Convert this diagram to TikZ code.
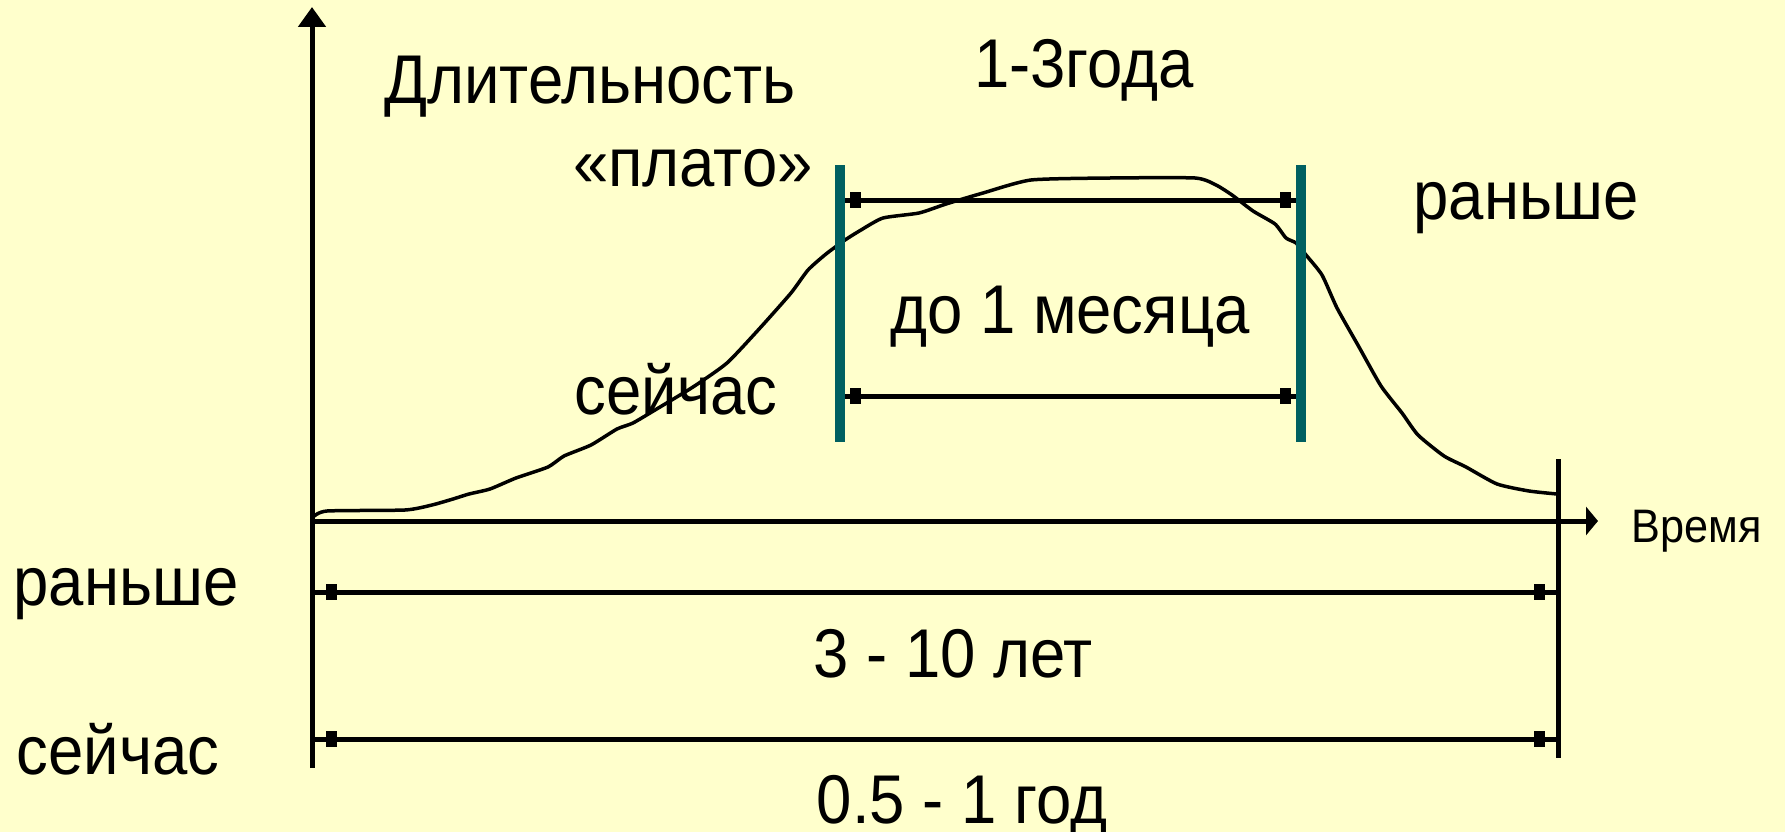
\documentclass[tikz,border=0pt]{standalone}
\usepackage{fontspec}
\setmainfont{Liberation Sans}
\newfontfamily\lblfont[FakeStretch=0.92]{Liberation Sans}
\usetikzlibrary{arrows.meta}
\definecolor{bgyel}{HTML}{FFFFCC}
\definecolor{tealbar}{HTML}{006060}
\tikzset{
  lbl/.style={inner sep=0pt, anchor=base, font=\lblfont\fontsize{69}{80}\selectfont},
  smalllbl/.style={inner sep=0pt, anchor=base, font=\lblfont\fontsize{47}{52}\selectfont},
  axisline/.style={line width=5pt, draw=black},
  tealline/.style={line width=10pt, draw=tealbar},
  dimline/.style={line width=5pt, draw=black},
  tickbox/.style={rectangle, fill=black, draw=none, minimum width=11pt, minimum height=16pt, inner sep=0pt},
  curveline/.style={line width=3.5pt, line join=round, line cap=round}
}
\begin{document}
\begin{tikzpicture}[x=1pt,y=-1pt]
\useasboundingbox (0,0) rectangle (1785,832);
\fill[bgyel] (0,0) rectangle (1785,832);

% axes
\coordinate (yb) at (312,768);
\coordinate (yt) at (312,7);
\coordinate (xo) at (312,521);
\coordinate (xe) at (1598,521);
\coordinate (rvt) at (1558,459);
\coordinate (rvb) at (1558,758);

% curve
\draw[curveline] plot[smooth, tension=0.35] coordinates {
 (313,517) (327,511) (405,510) (432,505) (453,499) (469,494) (490,489)
 (516,478) (548,467) (564,456) (591,445) (617,429) (633,423) (660,407)
 (693,387) (727,363) (760,328) (791,293) (808,270) (826,254) (845,240)
 (861,230) (883,218) (919,213) (946,204) (983,193) (1031,180) (1110,178)
 (1195,178) (1216,185) (1232,195) (1253,211) (1275,224) (1286,238)
 (1296,243) (1306,255) (1322,275) (1337,308) (1359,347) (1381,386)
 (1402,413) (1418,435) (1444,456) (1466,467) (1497,484) (1529,491) (1557,494)};

\draw[axisline, -{Triangle[length=20pt,width=27pt]}] (yb) -- (yt);
\draw[axisline, -{Triangle[length=12pt,width=28pt]}] (xo) -- (xe);
\draw[axisline] (rvt) -- (rvb);

% teal bars
\coordinate (tlt) at (840,165);
\coordinate (tlb) at (840,442);
\coordinate (trt) at (1301,165);
\coordinate (trb) at (1301,442);

% inner dimension lines
\coordinate (iaL) at (840,200);
\coordinate (iaR) at (1301,200);
\coordinate (ibL) at (840,396);
\coordinate (ibR) at (1301,396);
\draw[dimline] (iaL) -- (iaR);
\draw[dimline] (ibL) -- (ibR);
\node[tickbox] (ta1) at (855,200) {};
\node[tickbox] (ta2) at (1285,200) {};
\node[tickbox] (tb1) at (855,396) {};
\node[tickbox] (tb2) at (1285,396) {};
\draw[tealline] (tlt) -- (tlb);
\draw[tealline] (trt) -- (trb);

% lower dimension lines
\coordinate (raL) at (312,592);
\coordinate (raR) at (1558,592);
\coordinate (seL) at (312,739);
\coordinate (seR) at (1558,739);
\draw[dimline] (raL) -- (raR);
\draw[dimline] (seL) -- (seR);
\node[tickbox] (tr1) at (331,592) {};
\node[tickbox] (tr2) at (1539,592) {};
\node[tickbox] (ts1) at (331,739) {};
\node[tickbox] (ts2) at (1539,739) {};

% labels
\node[lbl] (dlit) at (590,104) {Длительность};
\node[lbl] (goda) at (1084,88) {1-3года};
\node[lbl] (plato) at (693,186) {«плато»};
\node[lbl] (ranR) at (1526,219) {раньше};
\node[lbl] (mes) at (1070,333) {до 1 месяца};
\node[lbl] (seiM) at (676,414) {сейчас};
\node[smalllbl] (vrem) at (1697,542) {Время};
\node[lbl] (ranL) at (126,605) {раньше};
\node[lbl] (seiL) at (118,774) {сейчас};
\node[lbl] (let) at (953,677) {3 - 10 лет};
\node[lbl] (god) at (962,823) {0.5 - 1 год};
\end{tikzpicture}
\end{document}
